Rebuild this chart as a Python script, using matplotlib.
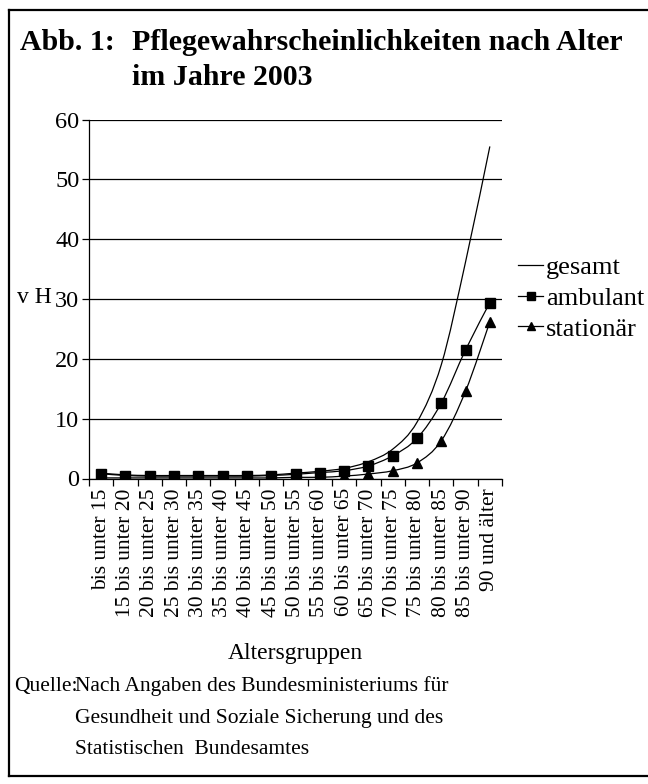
import numpy as np
import matplotlib
matplotlib.use('Agg')
from matplotlib import pyplot as plt
from matplotlib.path import Path
from matplotlib.patches import PathPatch
from matplotlib.lines import Line2D

plt.rcParams['font.family'] = ['Liberation Serif', 'DejaVu Serif']

# age groups and probabilities (vH)
groups = ['bis unter 15', '15 bis unter 20', '20 bis unter 25', '25 bis unter 30',
          '30 bis unter 35', '35 bis unter 40', '40 bis unter 45', '45 bis unter 50',
          '50 bis unter 55', '55 bis unter 60', '60 bis unter 65', '65 bis unter 70',
          '70 bis unter 75', '75 bis unter 80', '80 bis unter 85', '85 bis unter 90',
          '90 und älter']
gesamt = [0.9, 0.6, 0.5, 0.5, 0.5, 0.5, 0.5, 0.6, 0.9, 1.2, 1.7, 2.8, 4.9, 9.4, 19.0, 36.2, 55.5]
ambulant = [0.8, 0.5, 0.4, 0.4, 0.4, 0.4, 0.4, 0.5, 0.7, 1.0, 1.3, 2.1, 3.8, 6.7, 12.6, 21.5, 29.4]
stationaer = [0.1, 0.1, 0.1, 0.1, 0.1, 0.1, 0.1, 0.1, 0.2, 0.2, 0.4, 0.75, 1.3, 2.6, 6.3, 14.6, 26.2]


def smooth_path(xs, ys):
    # Excel-like smoothed line: Catmull-Rom segments as cubic Bezier
    pts = np.column_stack([xs, ys])
    n = len(pts)
    verts = [pts[0]]
    codes = [Path.MOVETO]
    for i in range(n - 1):
        p0 = pts[max(i - 1, 0)]
        p1 = pts[i]
        p2 = pts[i + 1]
        p3 = pts[min(i + 2, n - 1)]
        c1 = p1 + (p2 - p0) / 6.0
        c2 = p2 - (p3 - p1) / 6.0
        verts += [c1, c2, p2]
        codes += [Path.CURVE4] * 3
    return Path(verts, codes)


W, H = 648, 784
fig = plt.figure(figsize=(W / 100, H / 100), dpi=100)
ax = fig.add_axes([89 / W, 1 - 478.5 / H, 413 / W, 359 / H])

x = np.arange(len(groups)) + 0.5
lw = 0.9
for vals in (gesamt, ambulant, stationaer):
    ax.add_patch(PathPatch(smooth_path(x, vals), fill=False, ec='black', lw=lw, zorder=3))
ax.plot(x, ambulant, ls='none', marker='s', ms=7.5, color='black', zorder=4)
ax.plot(x, stationaer, ls='none', marker='^', ms=7.5, color='black', zorder=4)

ax.set_xlim(0, len(groups))
ax.set_ylim(0, 60)
ax.set_yticks(range(0, 61, 10))
ax.grid(axis='y', color='black', lw=0.9)
ax.set_axisbelow(True)
ax.set_xticks(np.arange(len(groups) + 1))
ax.set_xticklabels([])
ax.set_xticks(x, minor=True)
ax.set_xticklabels(groups, minor=True, rotation=90, fontsize=15.5, va='top')
ax.tick_params(axis='x', which='minor', length=0, pad=7)
ax.tick_params(axis='x', which='major', length=5, direction='out', width=0.9)
ax.tick_params(axis='y', length=5, width=0.9, labelsize=17.5, pad=2)
for s in ('top', 'right'):
    ax.spines[s].set_visible(False)
for s in ('left', 'bottom'):
    ax.spines[s].set_linewidth(0.9)

fig.text(295 / W, 1 - 653 / H, 'Altersgruppen', fontsize=17, ha='center', va='center')
fig.text(17 / W, 1 - 298 / H, 'v H', fontsize=17, ha='left', va='center')

# title
fig.text(20 / W, 1 - 50 / H, 'Abb. 1:', fontsize=21.5, fontweight='bold', va='baseline')
fig.text(132 / W, 1 - 50 / H, 'Pflegewahrscheinlichkeiten nach Alter', fontsize=21.5,
         fontweight='bold', va='baseline')
fig.text(132 / W, 1 - 85 / H, 'im Jahre 2003', fontsize=21.5, fontweight='bold', va='baseline')

# source
fig.text(14 / W, 1 - 686 / H, 'Quelle:', fontsize=15.5, va='center')
src = ['Nach Angaben des Bundesministeriums für',
       'Gesundheit und Soziale Sicherung und des',
       'Statistischen  Bundesamtes']
for i, line in enumerate(src):
    fig.text(75 / W, 1 - (686 + 32 * i) / H, line, fontsize=15.5, va='center')

# legend
handles = [Line2D([], [], color='black', lw=lw),
           Line2D([], [], color='black', lw=lw, marker='s', ms=6),
           Line2D([], [], color='black', lw=lw, marker='^', ms=6)]
fig.legend(handles, ['gesamt', 'ambulant', 'stationär'], loc='center left',
           bbox_to_anchor=(518 / W, 1 - 298 / H), frameon=False, fontsize=19,
           handlelength=0.95, handletextpad=0.1, labelspacing=0.28, borderpad=0,
           borderaxespad=0)

# frame around the figure
fr = dict(color='black', lw=1.6, transform=fig.transFigure)
fig.add_artist(Line2D([9 / W, 9 / W], [1 - 10 / H, 1 - 776 / H], **fr))
fig.add_artist(Line2D([9 / W, 1.05], [1 - 10 / H, 1 - 10 / H], **fr))
fig.add_artist(Line2D([9 / W, 1.05], [1 - 776 / H, 1 - 776 / H], **fr))

fig.savefig('out.png', dpi=100)
